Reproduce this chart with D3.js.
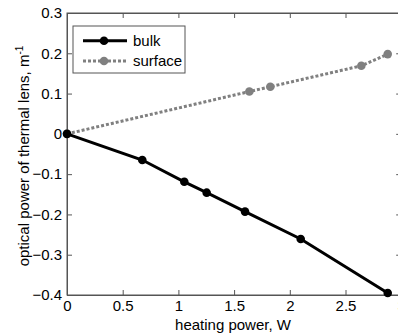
<!DOCTYPE html>
<html>
<head>
<meta charset="utf-8">
<script src="https://cdn.jsdelivr.net/npm/d3@7"></script>
<style>
  body { margin: 0; background: #fff; }
  svg { display: block; font-family: "Liberation Sans", Arial, sans-serif; }
</style>
</head>
<body>
<svg id="chart" width="398" height="336"></svg>
<script>
// data
var bulkX = [0, 0.676, 1.053, 1.254, 1.598, 2.098, 2.879];
var bulkY = [0, -0.065, -0.119, -0.146, -0.193, -0.261, -0.395];
var surfX = [0, 1.637, 1.825, 2.642, 2.879];
var surfY = [0, 0.105, 0.117, 0.169, 0.198];
var xTicks = [0, 0.5, 1, 1.5, 2, 2.5, 3];
var yTicks = [0.3, 0.2, 0.1, 0, -0.1, -0.2, -0.3, -0.4];

var svg = d3.select("#chart"),
    margin = {top: 13, left: 67},
    width = 334.2,
    height = 282,
    g = svg.append("g").attr("transform", "translate(" + margin.left + "," + margin.top + ")");

var x = d3.scaleLinear().domain([0, 3]).range([0, width]);
var y = d3.scaleLinear().domain([-0.4, 0.3]).range([height, 0]);

var axisColor = "#555";
var fontSize = "15px";

// box
g.append("rect")
    .attr("width", width)
    .attr("height", height)
    .attr("fill", "none")
    .attr("stroke", axisColor)
    .attr("stroke-width", 1);

function fmt(d) {
    return d === 0 ? "0" : d3.format("")(d);
}

var xAxis = g.append("g")
    .attr("transform", "translate(0," + height + ")")
    .call(d3.axisBottom(x).tickValues(xTicks).tickSize(-5).tickPadding(5).tickFormat(fmt));
var xAxisTop = g.append("g")
    .call(d3.axisTop(x).tickValues(xTicks).tickSize(-5).tickFormat(""));
var yAxis = g.append("g")
    .call(d3.axisLeft(y).tickValues(yTicks).tickSize(-5).tickPadding(5).tickFormat(fmt));
var yAxisRight = g.append("g")
    .attr("transform", "translate(" + width + ",0)")
    .call(d3.axisRight(y).tickValues(yTicks).tickSize(-5).tickFormat(""));

[xAxis, xAxisTop, yAxis, yAxisRight].forEach(function (a) {
    a.select(".domain").attr("stroke", axisColor);
    a.selectAll(".tick line").attr("stroke", axisColor);
    a.selectAll("text")
        .attr("fill", "#000")
        .style("font-size", fontSize)
        .style("font-family", "'Liberation Sans', Arial, sans-serif");
});

var line = d3.line()
    .x(function (d) { return x(d[0]); })
    .y(function (d) { return y(d[1]); });

var bulk = d3.zip(bulkX, bulkY);
var surf = d3.zip(surfX, surfY);

g.append("path")
    .datum(surf)
    .attr("d", line)
    .attr("fill", "none")
    .attr("stroke", "#808080")
    .attr("stroke-width", 3)
    .attr("stroke-dasharray", "3,2");

g.selectAll(".surfdot")
    .data(surf)
    .enter().append("circle")
    .attr("cx", function (d) { return x(d[0]); })
    .attr("cy", function (d) { return y(d[1]); })
    .attr("r", 4.3)
    .attr("fill", "#808080");

g.append("path")
    .datum(bulk)
    .attr("d", line)
    .attr("fill", "none")
    .attr("stroke", "#000")
    .attr("stroke-width", 3);

g.selectAll(".bulkdot")
    .data(bulk)
    .enter().append("circle")
    .attr("cx", function (d) { return x(d[0]); })
    .attr("cy", function (d) { return y(d[1]); })
    .attr("r", 4.3)
    .attr("fill", "#000");

// axis labels
svg.append("text")
    .attr("x", 233)
    .attr("y", 330)
    .attr("text-anchor", "middle")
    .style("font-size", fontSize)
    .text("heating power, W");

var ylab = svg.append("text")
    .attr("transform", "translate(29,156) rotate(-90)")
    .attr("text-anchor", "middle")
    .style("font-size", fontSize);
ylab.append("tspan").text("optical power of thermal lens, m");
ylab.append("tspan").attr("dy", -6).style("font-size", "10px").text("-1");

// legend
var legend = svg.append("g").attr("transform", "translate(73,26)");
legend.append("rect")
    .attr("width", 112)
    .attr("height", 47)
    .attr("fill", "#fff")
    .attr("stroke", axisColor)
    .attr("stroke-width", 1);

var items = [
    {name: "bulk", color: "#000", dash: null, cy: 14.7},
    {name: "surface", color: "#808080", dash: "3,2", cy: 35}
];
items.forEach(function (it) {
    legend.append("line")
        .attr("x1", 10).attr("x2", 54)
        .attr("y1", it.cy).attr("y2", it.cy)
        .attr("stroke", it.color)
        .attr("stroke-width", 3)
        .attr("stroke-dasharray", it.dash);
    legend.append("circle")
        .attr("cx", 31).attr("cy", it.cy)
        .attr("r", 4.3)
        .attr("fill", it.color);
    legend.append("text")
        .attr("x", 60)
        .attr("y", it.cy)
        .attr("dy", "0.35em")
        .style("font-size", fontSize)
        .text(it.name);
});
</script>
</body>
</html>
